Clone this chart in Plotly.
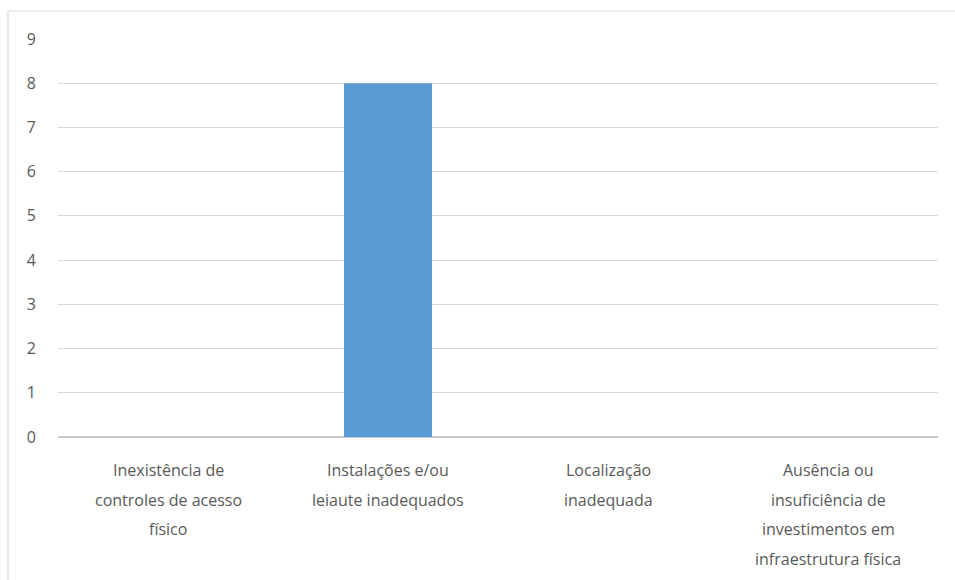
import plotly.graph_objects as go

# Chart data
categories = [
    ["Inexistência de", "controles de acesso", "físico"],
    ["Instalações e/ou", "leiaute inadequados"],
    ["Localização", "inadequada"],
    ["Ausência ou", "insuficiência de", "investimentos em", "infraestrutura física"],
]
counts = [0, 8, 0, 0]
y_ticks = list(range(0, 10))

cat_keys = [" ".join(c) for c in categories]

text_color = "#595959"
grid_color = "#d9d9d9"

fig = go.Figure(
    go.Bar(
        x=cat_keys,
        y=counts,
        width=0.4,
        marker=dict(color="#5b9bd5", line=dict(width=0)),
        hoverinfo="x+y",
    )
)

# Category labels, one annotation per line for wide line spacing
annotations = []
for key, lines in zip(cat_keys, categories):
    for i, line in enumerate(lines):
        annotations.append(
            dict(
                x=key, y=0, xref="x", yref="y",
                text=line, showarrow=False,
                xanchor="center", yanchor="middle",
                yshift=-(33 + 29.5 * i),
                font=dict(family="Open Sans", size=16, color=text_color),
            )
        )

# Outer frame: left and top edges of the chart box
shapes = [
    dict(type="line", xref="paper", yref="paper",
         x0=-50 / 880, x1=1.05, y0=426 / 398, y1=426 / 398,
         line=dict(color=grid_color, width=1.2)),
    dict(type="line", xref="paper", yref="paper",
         x0=-50 / 880, x1=-50 / 880, y0=426 / 398, y1=-0.4,
         line=dict(color=grid_color, width=1.2)),
]

fig.update_layout(
    width=955, height=580,
    margin=dict(l=58, r=17, t=39, b=143),
    paper_bgcolor="white", plot_bgcolor="white",
    showlegend=False,
    annotations=annotations,
    shapes=shapes,
    xaxis=dict(
        range=[-0.5, 3.5],
        showticklabels=False,
        showgrid=False,
        zeroline=False,
        showline=False,
        fixedrange=True,
    ),
    yaxis=dict(
        range=[0, 9],
        tickvals=y_ticks,
        showgrid=True, gridcolor=grid_color, gridwidth=1,
        zeroline=True, zerolinecolor="#c8c8c8", zerolinewidth=1.5,
        showline=False,
        ticklabelstandoff=21,
        tickfont=dict(family="Open Sans", size=16, color=text_color),
        fixedrange=True,
    ),
)

fig.write_html("out.html")
